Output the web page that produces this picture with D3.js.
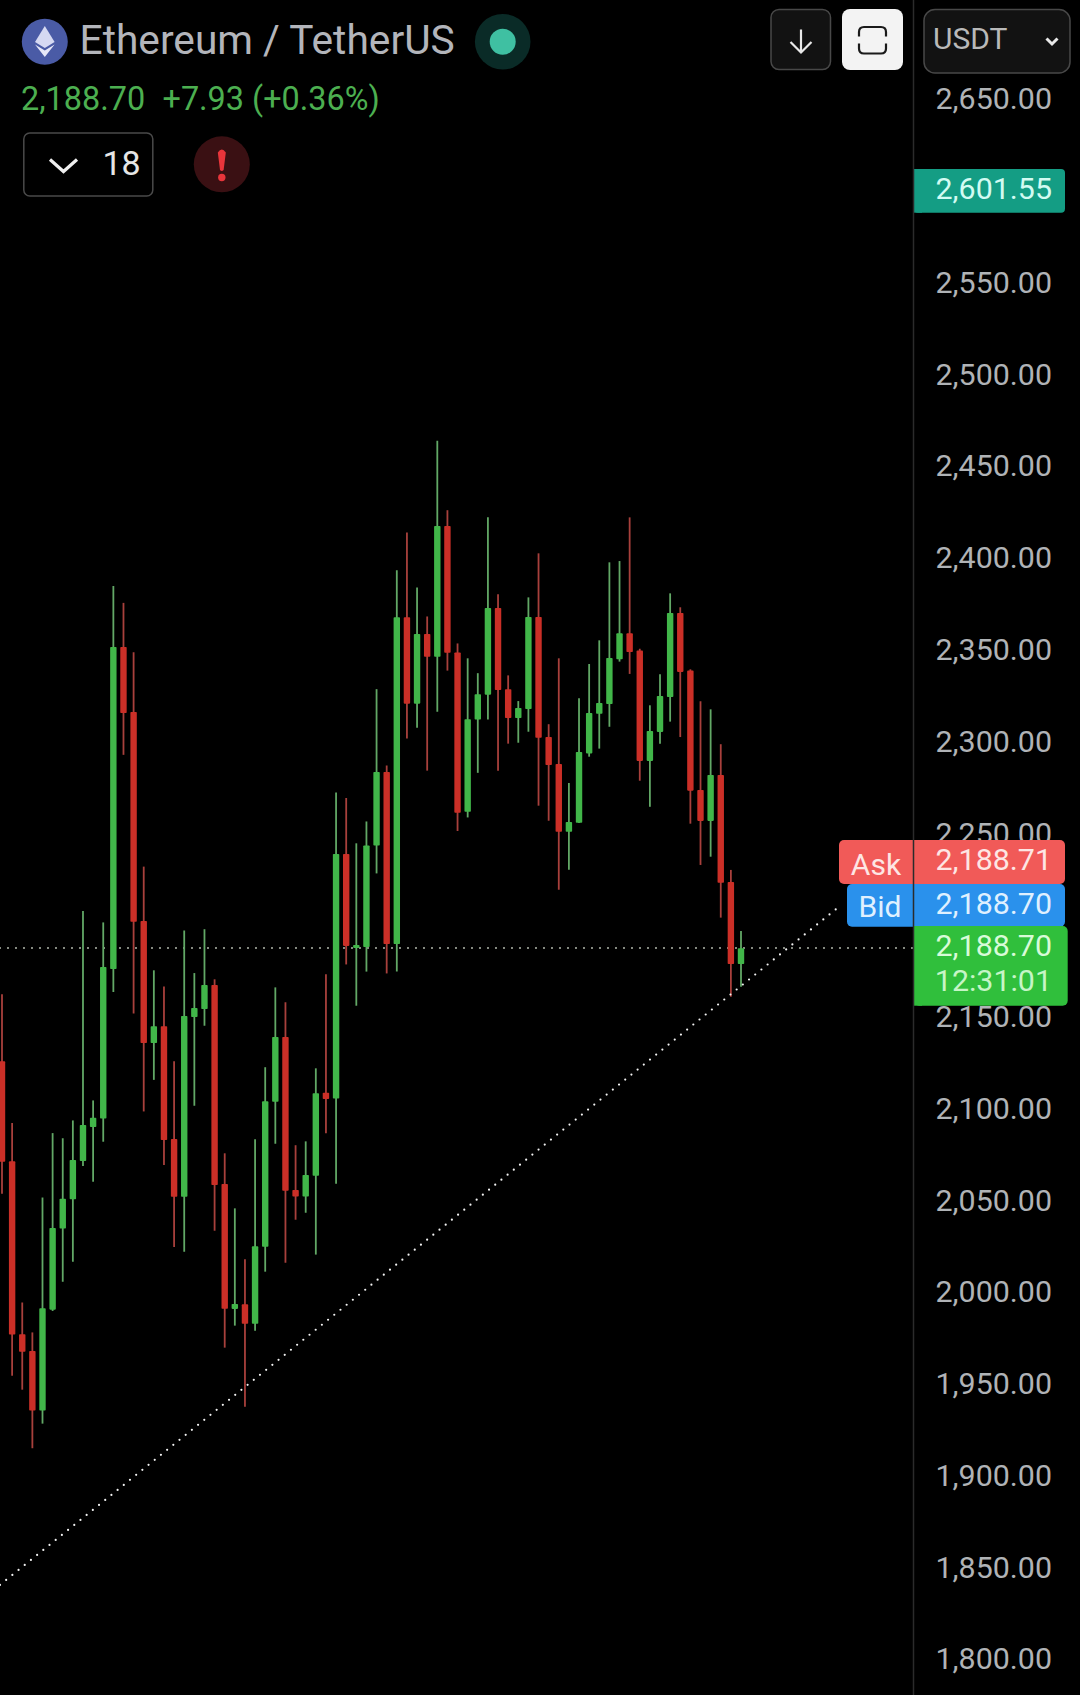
<!DOCTYPE html>
<html><head><meta charset="utf-8">
<style>html,body{margin:0;padding:0;background:#000;overflow:hidden}svg{display:block}text{font-family:Roboto,sans-serif}</style>
<script src="https://cdn.jsdelivr.net/npm/d3@7/dist/d3.min.js"></script>
</head><body><div id="c"></div>
<script>
const opens=[2126.9,2072.4,1978.2,1969.1,1936.6,1991.6,2035.8,2051.7,2072.6,2091.1,2095.7,2177.2,2352.7,2317.3,2203.4,2136.9,2146,2084.6,2053.1,2151.1,2155.4,2168.5,2060.1,1992,1994.5,1983.9,2025.9,2104.9,2140.2,2056.8,2053.2,2064.6,2109.8,2106.6,2239.9,2188.7,2189.2,2244.5,2284.6,2190.8,2368.9,2321.8,2359.8,2347.3,2418.6,2349.7,2262.9,2313.1,2326.7,2373.9,2329.7,2314,2318.9,2369,2303.6,2288.9,2252,2256.9,2294.7,2316.3,2321.6,2346,2360.1,2350.7,2290.6,2306.4,2325.4,2371.2,2339.8,2274.8,2257.9,2282.9,2224.6,2179.9];
const highs=[2163.4,2093.3,1995.5,1979.2,2052.7,2087.8,2085,2094.7,2208.8,2105.6,2202.6,2385.9,2376.7,2349.8,2233,2176.5,2167.7,2126.9,2198.2,2175,2198.9,2171.6,2076.8,2046.8,2019,2084.4,2123.7,2167.2,2159.1,2081.2,2083.3,2123.1,2174.3,2273.4,2270.4,2245.7,2257.6,2329.7,2288.1,2394.5,2415.1,2385.1,2369.3,2465,2427.2,2354.6,2346.5,2338.4,2423.4,2381.4,2337.2,2323.2,2379.7,2403.7,2310.6,2346.5,2278.6,2324.7,2343.4,2356.3,2398.8,2399.5,2423.3,2351.7,2320.9,2337.8,2381.9,2374.3,2340.5,2323.1,2318.7,2299.7,2231.2,2197.9];
const lows=[2054.8,1955.6,1948,1916.1,1929.5,1990.9,2006.8,2017.7,2069.9,2061.3,2083.1,2164.7,2293.9,2152.9,2099.6,2116.8,2070.4,2025.8,2023.1,2102.7,2146.3,2034.6,1970.9,1982.9,1938.7,1980.1,2012.3,2082,2017.2,2040.6,2044.4,2021.6,2087.7,2060.2,2179.7,2157.2,2175.8,2229.3,2174.8,2175.8,2302.8,2308.7,2285.3,2317.4,2339.8,2252.4,2259.8,2284.1,2313.1,2285.3,2300,2300.5,2306.5,2266.2,2258,2220.4,2231.3,2256.8,2292.9,2297.3,2309.2,2344.7,2338,2279.8,2265.6,2300,2312,2303.6,2256.4,2233.9,2238.4,2205.2,2162.1,2167.6];
const closes=[2072.2,1978,1968.6,1936.6,1992.4,2036.1,2052,2073.2,2092.2,2096.1,2178.3,2352.7,2316.7,2203,2136.9,2146,2084,2053.1,2151.6,2156,2168.5,2059.5,1992.1,1994.7,1983.9,2026.1,2105.1,2140.2,2056.4,2053.2,2065,2109.5,2106.4,2239.9,2189.8,2190.3,2244.5,2284.6,2190.8,2368.9,2321.8,2359.8,2347.3,2418.6,2349.5,2262.3,2313.3,2326.9,2373.9,2329.2,2314,2319.4,2369,2303.2,2288.4,2252,2257.3,2295.5,2316.7,2322.2,2346.7,2360.1,2349.9,2290.6,2306.9,2326,2371.2,2339.1,2274.4,2257.9,2282.9,2224.2,2179.9,2188.5];
const tickValues=[2650,2550,2500,2450,2400,2350,2300,2250,2150,2100,2050,2000,1950,1900,1850,1800];
const lastPrice=2188.70, trendStart=[-0.2,1841.6], trendEnd=[82.9,2212.1], highTag=2601.55;
const UP='#41b649',DOWN='#cb2f27',UPW='#62a866',DOWNW='#a8403c';

const W=1080,H=1695,AX=913.5;
const svg=d3.select('#c').append('svg').attr('width',W).attr('height',H).style('background','#000');
const x=d3.scaleLinear().domain([0,73]).range([2,741]);
const y=d3.scaleLinear().domain([2650,1800]).range([101.3,1661.3]);
const fmt=d3.format(',.2f');
const data=opens.map((o,i)=>({i,o,h:highs[i],l:lows[i],c:closes[i]}));

// last-price dotted line
svg.append('line').attr('x1',0).attr('x2',AX).attr('y1',y(lastPrice)).attr('y2',y(lastPrice))
  .attr('stroke','#b2b8ac').attr('stroke-width',2).attr('stroke-linecap','round').attr('stroke-dasharray','0 8');

// candles
const g=svg.append('g');
g.selectAll('.w').data(data).join('line').attr('class','w')
  .attr('x1',d=>x(d.i)).attr('x2',d=>x(d.i)).attr('y1',d=>y(d.h)).attr('y2',d=>y(d.l))
  .attr('stroke',d=>d.c>=d.o?UPW:DOWNW).attr('stroke-width',1.8);
g.selectAll('.b').data(data).join('rect').attr('class','b')
  .attr('x',d=>x(d.i)-3.2).attr('width',6.4)
  .attr('y',d=>y(Math.max(d.o,d.c))).attr('height',d=>Math.max(1.5,Math.abs(y(d.o)-y(d.c))))
  .attr('rx',0.8)
  .attr('fill',d=>d.c>=d.o?UP:DOWN);

// trend line
svg.append('line').attr('x1',x(trendStart[0])).attr('y1',y(trendStart[1])).attr('x2',x(trendEnd[0])).attr('y2',y(trendEnd[1]))
  .attr('stroke','#f2f2f2').attr('stroke-width',2.2).attr('stroke-linecap','round').attr('stroke-dasharray','0 7.96');

// price axis
const axis=d3.axisRight(y).tickValues(tickValues).tickFormat(fmt).tickSize(0).tickPadding(0);
const ag=svg.append('g').attr('transform','translate(1052,-3)').call(axis);
ag.select('.domain').remove();
ag.selectAll('text').attr('text-anchor','end').attr('x',0).attr('dy','0.35em').attr('fill','#b0b3b6').style('font-size','30.4px').style('font-family','Roboto,sans-serif');

function tag(xa,xb,ya,yb,fill,r){svg.append('rect').attr('x',xa).attr('y',ya).attr('width',xb-xa).attr('height',yb-ya).attr('rx',r).attr('fill',fill);}
function txt(s,xp,yp,fill,size,anchor='end'){return svg.append('text').attr('x',xp).attr('y',yp).attr('dy','0.355em').attr('fill',fill).attr('text-anchor',anchor).style('font-size',size+'px').text(s);}

// tags
tag(914,1065,169,212.7,'#149d84',4); svg.append('rect').attr('x',914).attr('y',169).attr('width',8).attr('height',43.7).attr('fill','#149d84');
txt(fmt(highTag),1052,188.5,'#d2fbf2',30.4);
tag(839,1065,840,884,'#f15a58',5);
tag(847,1065,884,926.7,'#2a91ec',5);
tag(914,1067.7,926,1005.7,'#30bf3c',5);
svg.append('rect').attr('x',914).attr('y',926).attr('width',8).attr('height',79.7).attr('fill','#30bf3c');
txt('Ask',876,864,'#fde6e4',30,'middle');
txt(fmt(2188.71),1052,859,'#fde6e4',30.4);
txt('Bid',880,906,'#dff0ff',30,'middle');
txt(fmt(2188.70),1052,903,'#dff0ff',30.4);
txt(fmt(lastPrice),1052,945,'#d8fbd8',30.4);
txt('12:31:01',1052,980.7,'#c6f5c6',30.4);

// axis separator
svg.append('line').attr('x1',AX).attr('x2',AX).attr('y1',0).attr('y2',H).attr('stroke','#2b2b2b').attr('stroke-width',1.5);

// header: coin icon
svg.append('circle').attr('cx',44.8).attr('cy',41.7).attr('r',23).attr('fill','#4a5ba6');
svg.append('path').attr('d','M44.8 26 L35 42 L44.8 48 L54.6 42 Z').attr('fill','#d5d9f2');
svg.append('path').attr('d','M35 44.5 L44.8 57 L54.6 44.5 L44.8 50.5 Z').attr('fill','#e6e8f8');
svg.append('text').attr('x',79.5).attr('y',54).attr('fill','#b3b5bb').style('font-size','40.7px').text('Ethereum / TetherUS');
svg.append('circle').attr('cx',502.7).attr('cy',41.7).attr('r',27.8).attr('fill','#0a2b27');
svg.append('circle').attr('cx',502.7).attr('cy',41.7).attr('r',13).attr('fill','#3fc0a2');
svg.append('text').attr('x',21).attr('y',110).attr('fill','#4caf50').style('font-size','32.4px').text(fmt(lastPrice));
svg.append('text').attr('x',162.5).attr('y',110).attr('fill','#4caf50').style('font-size','32.4px').text('+7.93 (+0.36%)');
svg.append('rect').attr('x',23.8).attr('y',133).attr('width',129).attr('height',63).attr('rx',6).attr('fill','#000').attr('stroke','#4a4a4a').attr('stroke-width',1.5);
svg.append('path').attr('d','M50 159.5 L63.5 171.5 L77 159.5').attr('fill','none').attr('stroke','#efefef').attr('stroke-width',3.2);
svg.append('text').attr('x',102.5).attr('y',175).attr('fill','#e6e6e6').style('font-size','34px').text('18');
svg.append('circle').attr('cx',221.8).attr('cy',164.3).attr('r',28).attr('fill','#3a1013');
svg.append('path').attr('d','M217.8 152.5 Q221.8 146.5 225.8 152.5 L223.6 170 Q221.8 172 220 170 Z').attr('fill','#e8353b');
svg.append('circle').attr('cx',221.8).attr('cy',177.5).attr('r',3.7).attr('fill','#e8353b');

// header: buttons
svg.append('rect').attr('x',771).attr('y',9.5).attr('width',59.5).attr('height',60).attr('rx',8).attr('fill','#121212').attr('stroke','#484848').attr('stroke-width',1.5);
svg.append('path').attr('d','M801 29.5 V52 M790.5 42 L801 52.5 L811.5 42').attr('fill','none').attr('stroke','#e8e8e8').attr('stroke-width',2.2);
svg.append('rect').attr('x',842).attr('y',9).attr('width',61).attr('height',61).attr('rx',8).attr('fill','#f3f3f3');
svg.append('path').attr('d','M859 36.5 V32 Q859 27 864 27 H881 Q886 27 886 32 V36.5 M859 43.5 V48.5 Q859 53.5 864 53.5 H881 Q886 53.5 886 48.5 V43.5').attr('fill','none').attr('stroke','#1a1a1a').attr('stroke-width',2.2);
svg.append('rect').attr('x',924).attr('y',9.5).attr('width',146).attr('height',63.5).attr('rx',11).attr('fill','#121212').attr('stroke','#484848').attr('stroke-width',1.5);
svg.append('text').attr('x',933).attr('y',49.3).attr('fill','#b9b9b9').style('font-size','30px').text('USDT');
svg.append('path').attr('d','M1046.5 38.5 L1052 44 L1057.5 38.5').attr('fill','none').attr('stroke','#e8e8e8').attr('stroke-width',3);
</script></body></html>
